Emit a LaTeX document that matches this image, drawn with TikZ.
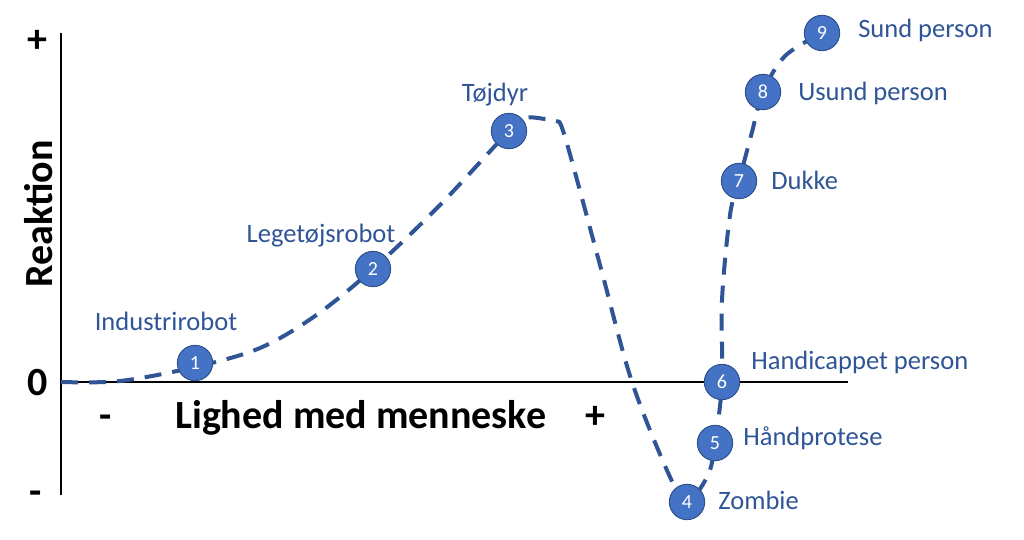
\documentclass[tikz,border=0pt]{standalone}
\usepackage{fontspec}
\setmainfont{Carlito}
\definecolor{curveblue}{HTML}{2F5597}
\definecolor{dotblue}{HTML}{4472C4}
\definecolor{dotedge}{HTML}{2F528F}
\begin{document}
\begin{tikzpicture}[x=0.75pt,y=-0.75pt,
  dot/.style={circle, fill=dotblue, draw=dotedge, line width=0.75pt, minimum size=26.5pt, inner sep=0pt, text=white, font=\fontsize{15}{15}\selectfont},
  lbl/.style={text=curveblue, font=\fontsize{19.9}{24}\selectfont, inner sep=0pt},
  big/.style={font=\fontsize{30}{36}\selectfont\bfseries, inner sep=0pt},
  axisline/.style={line width=1.9pt, black},
  curveline/.style={curveblue, line width=3pt, dash pattern=on 12.75pt off 8.25pt}]
\useasboundingbox (0,0) rectangle (1024,539);
% axes
\coordinate (ytop) at (61,33);
\coordinate (ybot) at (61,495);
\coordinate (xorig) at (61,382);
\coordinate (xend) at (848,382);
\draw[axisline] (ytop) -- (ybot);
\draw[axisline] (xorig) -- (xend);
% point positions
\coordinate (p1) at (195,363);
\coordinate (p2) at (373,269);
\coordinate (p3) at (509,131);
\coordinate (p4) at (687,502);
\coordinate (p5) at (715,443);
\coordinate (p6) at (722,382);
\coordinate (p7) at (739,181);
\coordinate (p8) at (763,92);
\coordinate (p9) at (822,33);
% curve
\draw[curveline] plot[smooth, tension=0.55] coordinates {
  (xorig) (120,381) (195,367) (260,348) (315,316) (p2) (440,205) (p3)
  (525,118) (545,119) (556,121) (565,137) (600,265) (632,382) (670,477) (p4)
  (708,475) (p5) (p6) (722,300) (730,215) (p7) (752,132) (p8) (785,56) (p9)};
% circles
\node[dot] (n1) at (p1) {1};
\node[dot] (n2) at (p2) {2};
\node[dot] (n3) at (p3) {3};
\node[dot] (n4) at (p4) {4};
\node[dot] (n5) at (p5) {5};
\node[dot] (n6) at (p6) {6};
\node[dot] (n7) at (p7) {7};
\node[dot] (n8) at (p8) {8};
\node[dot] (n9) at (p9) {9};
% labels
\node[lbl, anchor=base] (l1) at (166,330) {Industrirobot};
\node[lbl, anchor=base] (l2) at (321,242) {Legetøjsrobot};
\node[lbl, anchor=base] (l3) at (495,101) {Tøjdyr};
\node[lbl, anchor=base west] (l4) at (718,509) {Zombie};
\node[lbl, anchor=base west] (l5) at (743,445) {Håndprotese};
\node[lbl, anchor=base west] (l6) at (751,369) {Handicappet person};
\node[lbl, anchor=base west] (l7) at (771,189) {Dukke};
\node[lbl, anchor=base west] (l8) at (798,100) {Usund person};
\node[lbl, anchor=base west] (l9) at (858,37) {Sund person};
% axis texts
\node[big, anchor=base] (yplus) at (37,52) {+};
\node[big, anchor=base] (yzero) at (38,395) {0};
\node[big, anchor=base] (yminus) at (36,504) {-};
\node[big, anchor=base, rotate=90] (ylab) at (52,214) {Reaktion};
\node[big, anchor=base] (xminus) at (106,428) {-};
\node[big, anchor=base west] (xlab) at (175,428) {Lighed med menneske};
\node[big, anchor=base] (xplus) at (595,428) {+};
\end{tikzpicture}
\end{document}
